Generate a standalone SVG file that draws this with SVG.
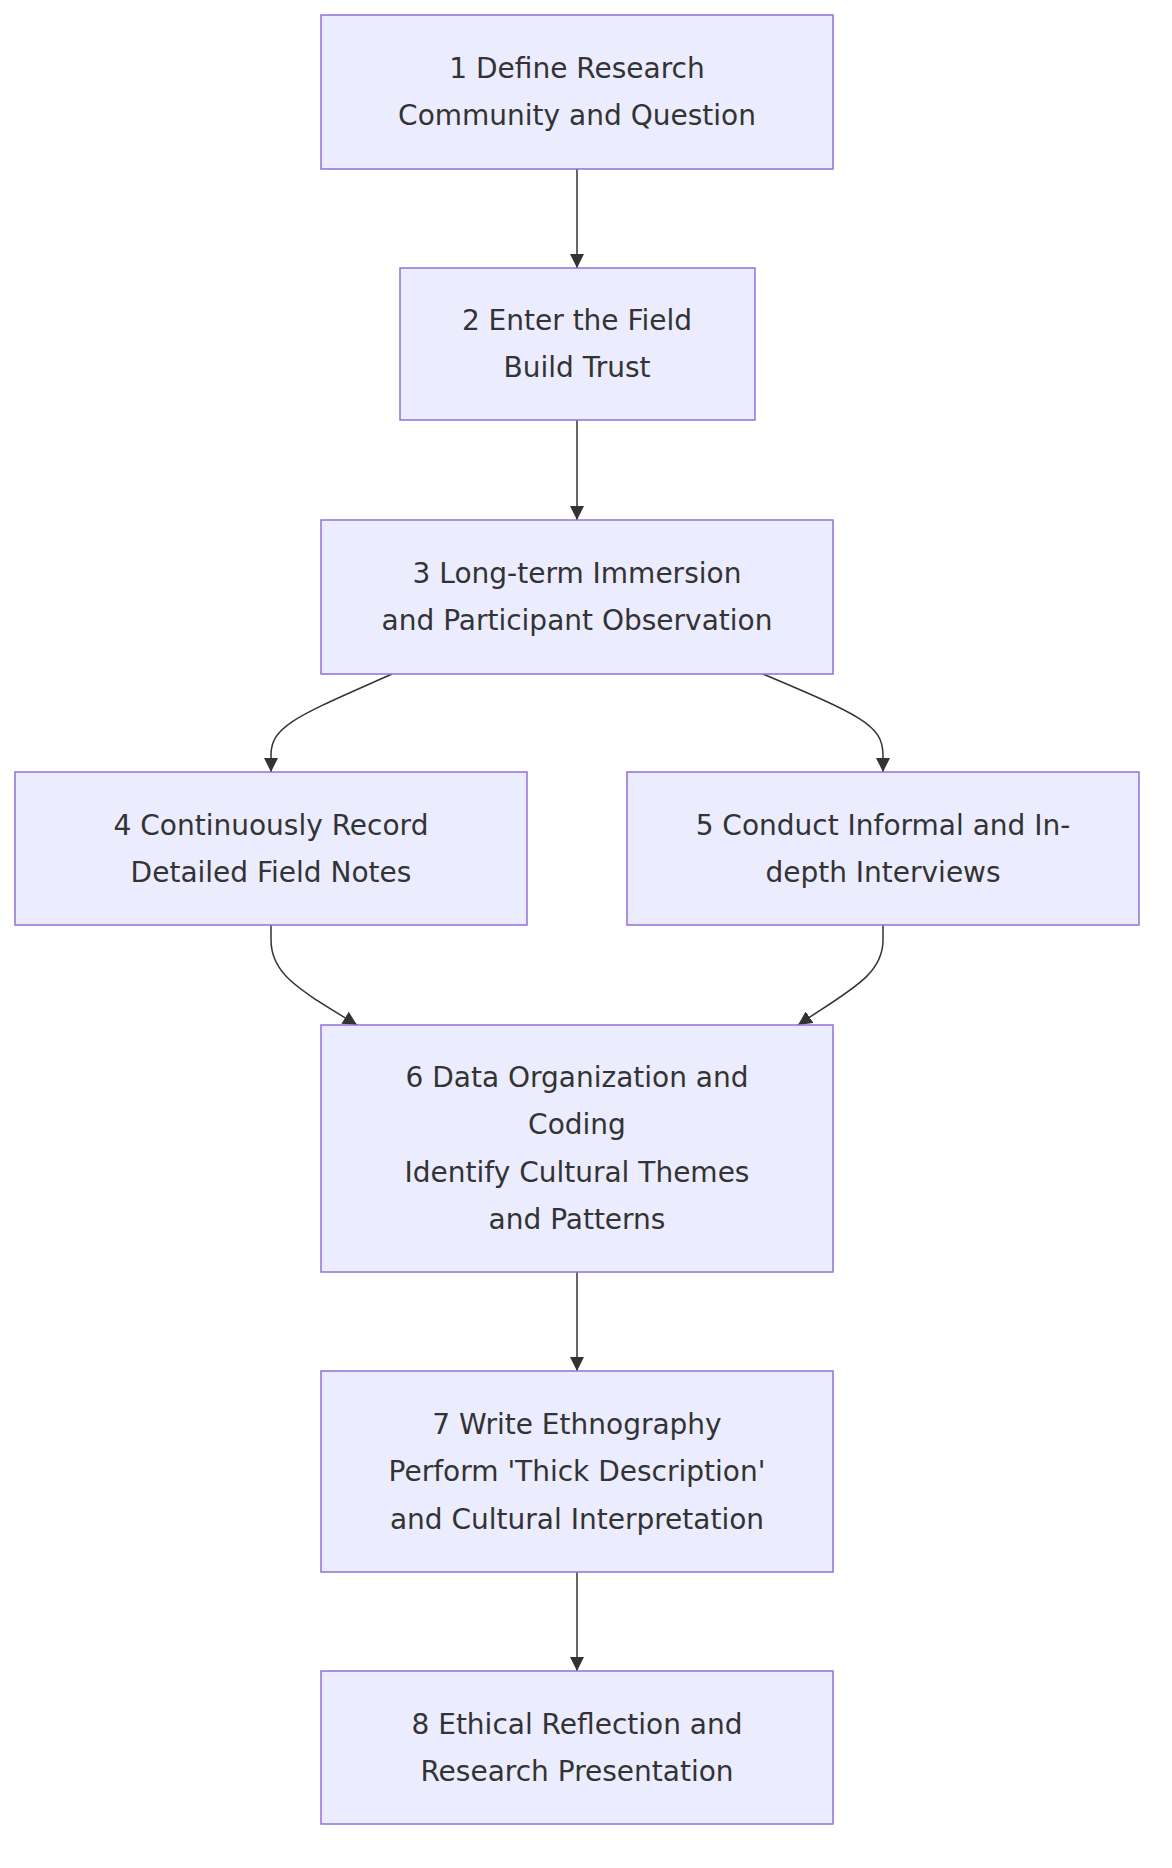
<svg xmlns="http://www.w3.org/2000/svg" width="1172" height="1868" viewBox="0 0 1172 1868">
<style>
.n rect{fill:#ECECFF;stroke:#9370DB;stroke-width:1.5}
.n text{font-family:"DejaVu Sans",sans-serif;font-size:28px;fill:#333;text-anchor:middle;dominant-baseline:central}
.e path{fill:none;stroke:#333;stroke-width:1.5;marker-end:url(#a)}
</style>
<defs><marker id="a" viewBox="0 0 10 10" refX="10" refY="5" markerWidth="14" markerHeight="14" markerUnits="userSpaceOnUse" orient="auto"><path d="M0,0L10,5L0,10z" fill="#333"/></marker></defs>
<rect width="1172" height="1868" fill="#fff"/>
<g class="e">
<path d="M577,169V268"/>
<path d="M577,420V520"/>
<path d="M392,674C300,715 271,725 271,755V772"/>
<path d="M763,674C860,715 883,725 883,755V772"/>
<path d="M271,925V940C271,975 300,990 357,1025"/>
<path d="M883,925V940C883,975 850,990 798,1025"/>
<path d="M577,1272V1371"/>
<path d="M577,1572V1671"/>
</g>
<g id="n1" class="n"><rect x="321" y="15" width="512" height="154"/><text x="577" y="68">1 Define Research</text><text x="577" y="115">Community and Question</text></g>
<g id="n2" class="n"><rect x="400" y="268" width="355" height="152"/><text x="577" y="320">2 Enter the Field</text><text x="577" y="367">Build Trust</text></g>
<g id="n3" class="n"><rect x="321" y="520" width="512" height="154"/><text x="577" y="573">3 Long-term Immersion</text><text x="577" y="620">and Participant Observation</text></g>
<g id="n4" class="n"><rect x="15" y="772" width="512" height="153"/><text x="271" y="825">4 Continuously Record</text><text x="271" y="872">Detailed Field Notes</text></g>
<g id="n5" class="n"><rect x="627" y="772" width="512" height="153"/><text x="883" y="825">5 Conduct Informal and In-</text><text x="883" y="872">depth Interviews</text></g>
<g id="n6" class="n"><rect x="321" y="1025" width="512" height="247"/><text x="577" y="1077">6 Data Organization and</text><text x="577" y="1124">Coding</text><text x="577" y="1172">Identify Cultural Themes</text><text x="577" y="1219">and Patterns</text></g>
<g id="n7" class="n"><rect x="321" y="1371" width="512" height="201"/><text x="577" y="1424">7 Write Ethnography</text><text x="577" y="1471">Perform 'Thick Description'</text><text x="577" y="1519">and Cultural Interpretation</text></g>
<g id="n8" class="n"><rect x="321" y="1671" width="512" height="153"/><text x="577" y="1724">8 Ethical Reflection and</text><text x="577" y="1771">Research Presentation</text></g>
</svg>
